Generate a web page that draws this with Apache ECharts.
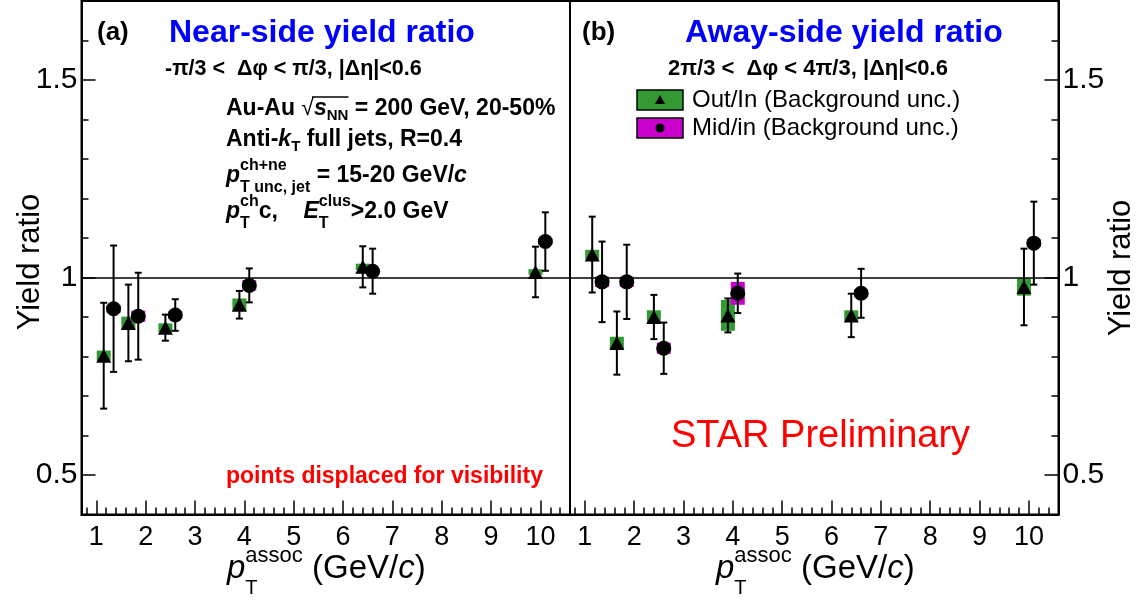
<!DOCTYPE html>
<html>
<head>
<meta charset="utf-8">
<script src="https://cdn.jsdelivr.net/npm/echarts@6/dist/echarts.min.js"></script>
<style>
  html, body { margin: 0; padding: 0; background: #fff; }
  #chart { width: 1143px; height: 601px; }
</style>
</head>
<body>
<div id="chart"></div>
<script>
  // pT positions, points displaced for visibility
  const ptOut = [1.15, 1.65, 2.4, 3.9, 6.4, 9.9]
  const ptMid = [1.35, 1.85, 2.6, 4.1, 6.6, 10.1]

  // (a) near-side yield ratio
  const nearOut = [0.802, 0.885, 0.873, 0.931, 1.027, 1.014]
  const nearOutStat = [0.134, 0.097, 0.033, 0.035, 0.052, 0.064]
  const nearOutSys = [0.013, 0.016, 0.011, 0.016, 0.008, 0.007]
  const nearMid = [0.921, 0.902, 0.905, 0.980, 1.016, 1.091]
  const nearMidStat = [0.160, 0.110, 0.040, 0.043, 0.057, 0.074]
  const nearMidSys = [0.010, 0.014, 0.010, 0.013, 0.005, 0.008]

  // (b) away-side yield ratio
  const awayOut = [1.058, 0.834, 0.900, 0.904, 0.904, 0.976]
  const awayOutStat = [0.096, 0.080, 0.056, 0.043, 0.055, 0.097]
  const awayOutSys = [0.012, 0.016, 0.017, 0.039, 0.013, 0.022]
  const awayMid = [0.989, 0.989, 0.821, 0.960, 0.960, 1.087]
  const awayMidStat = [0.102, 0.094, 0.065, 0.050, 0.062, 0.105]
  const awayMidSys = [0.013, 0.013, 0.014, 0.029, 0.010, 0.010]

  // axis ticks
  const xTickLabels = [1, 2, 3, 4, 5, 6, 7, 8, 9, 10]
  const yTickLabels = [0.5, 1, 1.5]
  const xMinor = []
  for (let v = 0.8; v < 10.65; v += 0.2) xMinor.push(Math.round(v * 10) / 10)
  const yMinor = []
  for (let v = 0.4; v < 1.75; v += 0.1) yMinor.push(Math.round(v * 10) / 10)

  const FONT = '"Liberation Sans", Arial, Helvetica, sans-serif'
  const GREEN = '#339933'
  const MAGENTA = '#cc00cc'
  const ctx = document.createElement('canvas').getContext('2d')

  function fstr(p) {
    return (p.i ? 'italic ' : '') + (p.b ? 'bold ' : '') + p.s + 'px ' + FONT
  }

  // a line of text with sub/superscripts, pieces laid out left to right
  function textLine(x, y, parts, color) {
    const els = []
    let cx = x
    let o1 = null, o2 = null
    parts.forEach(p => {
      const group = p.stack || [p]
      let w = 0
      group.forEach(q => {
        els.push({
          type: 'text', x: cx, y: y + (q.dy || 0), silent: true,
          style: {
            text: q.t, fill: color, fontSize: q.s, fontFamily: FONT,
            fontWeight: q.b ? 'bold' : 'normal', fontStyle: q.i ? 'italic' : 'normal',
            align: 'left', verticalAlign: 'middle'
          }
        })
        ctx.font = fstr(q)
        const qw = ctx.measureText(q.t).width
        w = Math.max(w, qw)
        if (q.over) {
          if (o1 === null) o1 = cx
          o2 = cx + qw
        }
      })
      cx += w
    })
    if (o1 !== null) {
      els.push({type: 'line', silent: true, shape: {x1: o1 - 2, y1: y - 12, x2: o2, y2: y - 12}, style: {stroke: color, lineWidth: 1.5}})
    }
    return els
  }

  const B = (t, o) => Object.assign({t: t, s: 23, b: true}, o || {})
  const N = (t, o) => Object.assign({t: t, s: 33}, o || {})

  function boxSeries(xi, xs, ys, sys, color) {
    return {
      type: 'custom', xAxisIndex: xi, yAxisIndex: xi,
      data: xs.map((x, i) => [x, ys[i], sys[i]]),
      encode: {x: 0, y: 1},
      renderItem(params, api) {
        const x = api.value(0), y = api.value(1), e = api.value(2)
        const top = api.coord([x, y + e]), bot = api.coord([x, y - e])
        return {type: 'rect', shape: {x: top[0] - 7, y: top[1], width: 14, height: Math.max(bot[1] - top[1], 1)}, style: {fill: color}}
      }
    }
  }

  function errSeries(xi, xs, ys, errs) {
    return {
      type: 'custom', xAxisIndex: xi, yAxisIndex: xi,
      data: xs.map((x, i) => [x, ys[i], errs[i]]),
      encode: {x: 0, y: 1},
      renderItem(params, api) {
        const x = api.value(0), y = api.value(1), e = api.value(2)
        const top = api.coord([x, y + e]), bot = api.coord([x, y - e])
        const st = {stroke: '#000', lineWidth: 2}
        return {
          type: 'group', children: [
            {type: 'line', shape: {x1: top[0], y1: top[1], x2: bot[0], y2: bot[1]}, style: st},
            {type: 'line', shape: {x1: top[0] - 3.5, y1: top[1], x2: top[0] + 3.5, y2: top[1]}, style: st},
            {type: 'line', shape: {x1: bot[0] - 3.5, y1: bot[1], x2: bot[0] + 3.5, y2: bot[1]}, style: st}
          ]
        }
      }
    }
  }

  function pointSeries(xi, xs, ys, symbol, size, withLine) {
    const s = {
      type: 'scatter', xAxisIndex: xi, yAxisIndex: xi,
      symbol: symbol, symbolSize: size,
      itemStyle: {color: '#000', opacity: 1},
      data: xs.map((x, i) => [x, ys[i]])
    }
    if (withLine) {
      s.markLine = {
        silent: true, symbol: 'none', label: {show: false},
        lineStyle: {color: '#000', width: 1.5, type: 'solid'},
        data: [{yAxis: 1}]
      }
    }
    return s
  }

  function panelSeries(xi, out, outStat, outSys, mid, midStat, midSys) {
    return [
      boxSeries(xi, ptOut, out, outSys, GREEN),
      boxSeries(xi, ptMid, mid, midSys, MAGENTA),
      errSeries(xi, ptOut, out, outStat),
      errSeries(xi, ptMid, mid, midStat),
      pointSeries(xi, ptOut, out, 'triangle', [15, 14], true),
      pointSeries(xi, ptMid, mid, 'circle', 15, false)
    ]
  }

  function xAxisMain(g) {
    return {
      type: 'value', gridIndex: g, min: 0.7, max: 10.6, position: 'bottom',
      axisLine: {show: true, onZero: false, lineStyle: {color: '#000', width: 2}},
      axisTick: {show: true, inside: true, length: 14, customValues: xTickLabels, lineStyle: {color: '#000', width: 1.5}},
      axisLabel: {customValues: xTickLabels, fontSize: 27, color: '#000', fontFamily: FONT, margin: 10},
      splitLine: {show: false}
    }
  }
  function xAxisMinor(g) {
    return {
      type: 'value', gridIndex: g, min: 0.7, max: 10.6, position: 'bottom', offset: 0,
      axisLine: {show: false},
      axisTick: {show: true, inside: true, length: 7, customValues: xMinor, lineStyle: {color: '#000', width: 1.5}},
      axisLabel: {show: false}, splitLine: {show: false}
    }
  }
  function yAxisMain(g, pos) {
    return {
      type: 'value', gridIndex: g, min: 0.4, max: 1.7, position: pos,
      axisLine: {show: true, lineStyle: {color: '#000', width: 2}},
      axisTick: {show: true, inside: true, length: 14, customValues: yTickLabels, lineStyle: {color: '#000', width: 1.5}},
      axisLabel: {customValues: yTickLabels, fontSize: 30, color: '#000', fontFamily: FONT, margin: 4},
      splitLine: {show: false}
    }
  }
  function yAxisMinor(g, pos) {
    return {
      type: 'value', gridIndex: g, min: 0.4, max: 1.7, position: pos, offset: 0,
      axisLine: {show: false},
      axisTick: {show: true, inside: true, length: 7, customValues: yMinor, lineStyle: {color: '#000', width: 1.5}},
      axisLabel: {show: false}, splitLine: {show: false}
    }
  }

  function axisTitle(x) {
    return textLine(x, 569, [
      N('p', {i: true}),
      {stack: [N('assoc', {s: 22, dy: -13}), N('T', {s: 20, dy: 19})]},
      N(' (GeV/'), N('c', {i: true}), N(')')
    ], '#000')
  }

  const BLK = '#000'
  const graphics = [].concat(
    [
      {type: 'text', x: 97, y: 33, silent: true, style: {text: '(a)', fontSize: 26, fontWeight: 'bold', fontFamily: FONT, fill: BLK, verticalAlign: 'middle'}},
      {type: 'text', x: 169, y: 33, silent: true, style: {text: 'Near-side yield ratio', fontSize: 32, fontWeight: 'bold', fontFamily: FONT, fill: '#0000ff', verticalAlign: 'middle'}},
      {type: 'text', x: 582, y: 33, silent: true, style: {text: '(b)', fontSize: 26, fontWeight: 'bold', fontFamily: FONT, fill: BLK, verticalAlign: 'middle'}},
      {type: 'text', x: 685, y: 33, silent: true, style: {text: 'Away-side yield ratio', fontSize: 32, fontWeight: 'bold', fontFamily: FONT, fill: '#0000ff', verticalAlign: 'middle'}},
      {type: 'text', x: 226, y: 477, silent: true, style: {text: 'points displaced for visibility', fontSize: 23, fontWeight: 'bold', fontFamily: FONT, fill: '#ff0000', verticalAlign: 'middle'}},
      {type: 'text', x: 671, y: 437, silent: true, style: {text: 'STAR Preliminary', fontSize: 38, fontFamily: FONT, fill: '#ff0000', verticalAlign: 'middle'}},
      {type: 'text', x: 30, y: 262, rotation: Math.PI / 2, silent: true, style: {text: 'Yield ratio', fontSize: 31, fontFamily: FONT, fill: BLK, align: 'center', verticalAlign: 'middle'}},
      {type: 'text', x: 1121, y: 268, rotation: Math.PI / 2, silent: true, style: {text: 'Yield ratio', fontSize: 31, fontFamily: FONT, fill: BLK, align: 'center', verticalAlign: 'middle'}},
      // legend
      {type: 'rect', shape: {x: 637, y: 90, width: 46, height: 20}, style: {fill: GREEN, stroke: BLK, lineWidth: 1.5}},
      {type: 'polygon', shape: {points: [[660, 95], [655, 104], [665, 104]]}, style: {fill: BLK}},
      {type: 'text', x: 692, y: 100, silent: true, style: {text: 'Out/In (Background unc.)', fontSize: 24, fontFamily: FONT, fill: BLK, verticalAlign: 'middle'}},
      {type: 'rect', shape: {x: 637, y: 118, width: 46, height: 20}, style: {fill: MAGENTA, stroke: BLK, lineWidth: 1.5}},
      {type: 'circle', shape: {cx: 660, cy: 128, r: 4.5}, style: {fill: BLK}},
      {type: 'text', x: 692, y: 128, silent: true, style: {text: 'Mid/in (Background unc.)', fontSize: 24, fontFamily: FONT, fill: BLK, verticalAlign: 'middle'}}
    ],
    textLine(165, 69, [B('-π/3 <  Δφ < π/3, |Δη|<0.6', {s: 21.5})], BLK),
    textLine(668, 69, [B('2π/3 <  Δφ < 4π/3, |Δη|<0.6', {s: 22})], BLK),
    textLine(226, 109, [B('Au-Au '), B('√', {b: false}), B('s', {i: true, over: true}), B('NN', {s: 15, dy: 7, over: true}), B(' = 200 GeV, 20-50%')], BLK),
    textLine(226, 140, [B('Anti-'), B('k', {i: true}), B('T', {s: 15, dy: 7}), B(' full jets, R=0.4')], BLK),
    textLine(226, 176, [B('p', {i: true}), {stack: [B('ch+ne', {s: 16, dy: -10}), B('T unc, jet', {s: 16, dy: 12})]}, B(' = 15-20 GeV/'), B('c', {i: true})], BLK),
    textLine(226, 212, [B('p', {i: true}), {stack: [B('ch', {s: 16, dy: -10}), B('T', {s: 16, dy: 12})]}, B('c,    '), B('E', {i: true}), {stack: [B('clus', {s: 16, dy: -10}), B('T', {s: 16, dy: 12})]}, B('>2.0 GeV')], BLK),
    axisTitle(227),
    axisTitle(716)
  )

  const chart = echarts.init(document.getElementById('chart'), null, {renderer: 'canvas'})
  chart.setOption({
    animation: false,
    backgroundColor: '#fff',
    grid: [
      {left: 81.5, top: 1, width: 488.5, height: 513.5, show: true, borderColor: '#000', borderWidth: 2},
      {left: 570, top: 1, width: 488.5, height: 513.5, show: true, borderColor: '#000', borderWidth: 2}
    ],
    xAxis: [xAxisMain(0), xAxisMain(1), xAxisMinor(0), xAxisMinor(1)],
    yAxis: [yAxisMain(0, 'left'), yAxisMain(1, 'right'), yAxisMinor(0, 'left'), yAxisMinor(1, 'right')],
    series: [].concat(
      panelSeries(0, nearOut, nearOutStat, nearOutSys, nearMid, nearMidStat, nearMidSys),
      panelSeries(1, awayOut, awayOutStat, awayOutSys, awayMid, awayMidStat, awayMidSys)
    ),
    graphic: {elements: graphics}
  })
</script>
</body>
</html>
